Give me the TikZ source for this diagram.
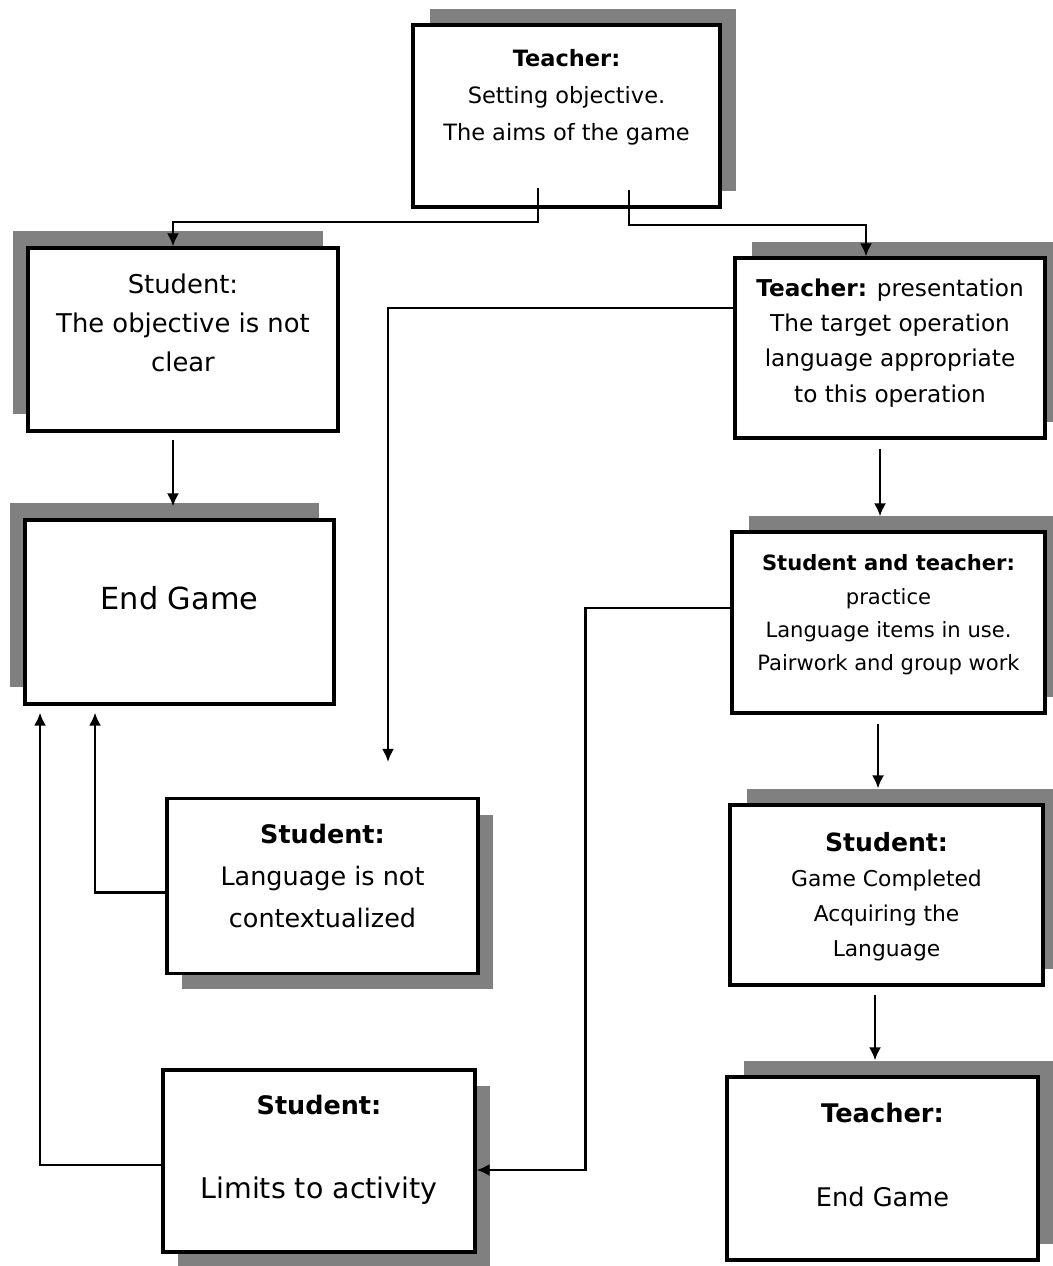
\documentclass[tikz,border=0pt]{standalone}
\usepackage{fontspec}
\setmainfont{DejaVu Sans}
\usetikzlibrary{arrows.meta, shadows}
\definecolor{shadowgray}{rgb}{0.50, 0.50, 0.50}

\begin{document}
\begin{tikzpicture}[
  x=0.02cm, y=-0.02cm,
  box/.style={
    rectangle, draw=black, line width=1.8pt, fill=white,
    minimum width=6.2cm, minimum height=3.62cm, inner sep=0pt
  },
  shadowur/.style={drop shadow={shadow xshift=0.33cm, shadow yshift=0.32cm, fill=shadowgray, opacity=1}},
  shadowul/.style={drop shadow={shadow xshift=-0.30cm, shadow yshift=0.34cm, fill=shadowgray, opacity=1}},
  shadowdr/.style={drop shadow={shadow xshift=0.30cm, shadow yshift=-0.32cm, fill=shadowgray, opacity=1}},
  txt/.style={align=center, inner sep=0pt, text=black},
  arr/.style={-{Latex[length=7.5pt, width=7pt]}, line width=1.5pt, color=black}
]
  \useasboundingbox (0,0) rectangle (1052,1266);

  % Boxes
  \node[box, shadowur, minimum width=6.14cm, minimum height=3.64cm] (t1) at (566.5,116) {};
  \node[box, shadowul, minimum height=3.66cm] (s1) at (183,339.5) {};
  \node[box, shadowul, minimum width=6.18cm, minimum height=3.68cm] (e1) at (179.5,612) {};
  \node[box, shadowur, minimum height=3.6cm] (t2) at (890,348) {};
  \node[box, shadowur, minimum width=6.26cm] (sp) at (888.5,622.5) {};
  \node[box, shadowur, minimum width=6.26cm, minimum height=3.6cm] (sg) at (886.5,895) {};
  \node[box, shadowur, minimum width=6.22cm, minimum height=3.66cm] (te) at (882.5,1168.5) {};
  \node[box, shadowdr, minimum width=6.22cm, minimum height=3.5cm] (s2) at (322.5,886) {};
  \node[box, shadowdr, minimum width=6.24cm, minimum height=3.64cm] (l) at (319,1161) {};

  % Texts
  \node[txt, font=\fontsize{12.8}{21}\selectfont] (t1text) at (566.5,97)
    {\textbf{Teacher:}\\Setting objective.\\The aims of the game};
  \node[txt, font=\fontsize{14.7}{22}\selectfont] (s1text) at (183,323)
    {Student:\\The objective is not\\clear};
  \node[txt, font=\fontsize{17.3}{21}\selectfont] (e1text) at (179.5,598) {End Game};
  \node[txt, font=\fontsize{13.2}{20}\selectfont] (t2text) at (890,343)
    {\textbf{Teacher:} presentation\\The target operation\\language appropriate\\to this operation};
  \node[txt, font=\fontsize{12}{19}\selectfont] (sptext) at (888.5,615)
    {\textbf{Student and teacher:}\\practice\\Language items in use.\\Pairwork and group work};
  \node[txt, font=\fontsize{12.4}{20}\selectfont] (sgtext) at (886.5,897)
    {{\fontsize{14.3}{20}\selectfont\textbf{Student:}}\\Game Completed\\Acquiring the\\Language};
  \node[txt, font=\fontsize{14.5}{24}\selectfont] (s2text) at (322.5,876)
    {\textbf{Student:}\\Language is not\\contextualized};
  \node[txt, font=\fontsize{16.2}{47.6}\selectfont] (ltext) at (319,1150)
    {{\fontsize{14.5}{47.6}\selectfont\textbf{Student:}}\\Limits to activity};
  \node[txt, font=\fontsize{14.6}{48}\selectfont] (tetext) at (882.5,1155)
    {\textbf{Teacher:}\\End Game};

  % Branches from the top box
  \coordinate (t1l) at (538,188);
  \coordinate (t1r) at (629,190);
  \draw[arr] (t1l) -- ++(0,34) -| ([xshift=-0.2cm]s1.north);
  \draw[arr] (t1r) -- ++(0,35) -| ([xshift=-0.48cm]t2.north);

  % Left column
  \draw[arr, shorten <=0.14cm, shorten >=0.24cm] ([xshift=-0.2cm]s1.south) -- ([xshift=-0.2cm]s1.south |- e1.north);

  % Right column
  \draw[arr, shorten <=0.18cm, shorten >=0.28cm] ([xshift=-0.2cm]t2.south) -- ([xshift=-0.2cm]t2.south |- sp.north);
  \draw[arr, shorten <=0.18cm, shorten >=0.30cm] ([xshift=-0.21cm]sp.south) -- ([xshift=-0.21cm]sp.south |- sg.north);
  \draw[arr, shorten <=0.16cm, shorten >=0.30cm] ([xshift=-0.23cm]sg.south) -- ([xshift=-0.23cm]sg.south |- te.north);

  % Cross links
  \coordinate (s2in) at (388,762);
  \draw[arr] ([yshift=0.8cm]t2.west) -| (s2in);
  \draw[arr] ([yshift=0.29cm]sp.west) -- ++(-145,0) |- ([yshift=-0.18cm]l.east);

  % Back to End Game
  \draw[arr, shorten >=0.14cm] ([yshift=-0.13cm]s2.west) -| ([xshift=-1.69cm]e1.south);
  \draw[arr, shorten >=0.14cm] ([yshift=-0.08cm]l.west) -| ([xshift=-2.79cm]e1.south);
\end{tikzpicture}
\end{document}
